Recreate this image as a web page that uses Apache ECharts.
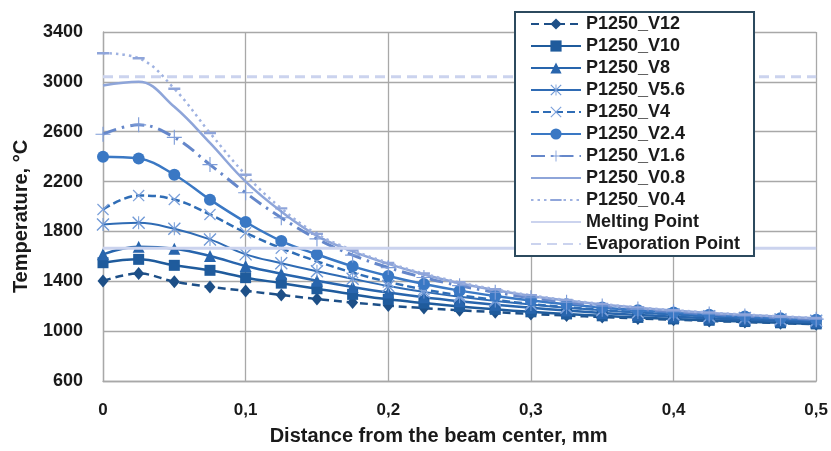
<!DOCTYPE html>
<html>
<head>
<meta charset="utf-8">
<script src="https://cdn.jsdelivr.net/npm/echarts@6/dist/echarts.min.js"></script>
<style>html,body{margin:0;padding:0;background:#fff}#c{width:831px;height:451px}</style>
</head>
<body>
<div id="c"></div>
<script>
const xs = [0, 0.025, 0.05, 0.075, 0.1, 0.125, 0.15, 0.175, 0.2, 0.225, 0.25, 0.275, 0.3, 0.325, 0.35, 0.375, 0.4, 0.425, 0.45, 0.475, 0.5];
const yTicks = [600, 1000, 1400, 1800, 2200, 2600, 3000, 3400];
const xTicks = ['0', '0,1', '0,2', '0,3', '0,4', '0,5'];

const V12  = [1402, 1462, 1397, 1355, 1323, 1290, 1258, 1230, 1205, 1185, 1168, 1152, 1138, 1125, 1113, 1102, 1092, 1082, 1073, 1064, 1055];
const V10  = [1549, 1576, 1528, 1488, 1429, 1385, 1340, 1295, 1255, 1225, 1198, 1175, 1155, 1138, 1123, 1110, 1098, 1087, 1077, 1067, 1058];
const V8   = [1616, 1677, 1661, 1603, 1523, 1460, 1405, 1355, 1310, 1272, 1240, 1212, 1187, 1165, 1146, 1130, 1116, 1103, 1092, 1081, 1071];
const V5_6 = [1856, 1869, 1821, 1736, 1616, 1545, 1480, 1420, 1362, 1315, 1275, 1242, 1213, 1188, 1167, 1149, 1133, 1119, 1106, 1094, 1083];
const V4   = [1976, 2088, 2056, 1936, 1789, 1665, 1560, 1470, 1395, 1335, 1288, 1250, 1218, 1192, 1170, 1151, 1135, 1120, 1107, 1095, 1084];
const V2_4 = [2400, 2385, 2255, 2055, 1875, 1723, 1616, 1520, 1443, 1378, 1325, 1282, 1246, 1216, 1190, 1168, 1149, 1132, 1117, 1104, 1092];
const V1_6 = [2580, 2655, 2555, 2336, 2110, 1910, 1740, 1610, 1510, 1430, 1365, 1312, 1268, 1232, 1202, 1177, 1156, 1138, 1122, 1108, 1096];
const V0_8 = [2970, 3000, 2800, 2510, 2200, 1960, 1765, 1640, 1540, 1455, 1385, 1330, 1282, 1245, 1213, 1187, 1165, 1146, 1130, 1116, 1103];
const V0_4 = [3230, 3190, 2945, 2590, 2255, 1985, 1780, 1650, 1548, 1462, 1392, 1336, 1288, 1250, 1218, 1191, 1169, 1150, 1133, 1119, 1106];
const meltingPoint = 1665;
const evaporationPoint = 3040;

const pairs = arr => arr.map((v, i) => [xs[i], v]);
const flat = v => [[xs[0], v], [xs[xs.length - 1], v]];

const X_PATH = 'path://M0,1.5L1.5,0L20,18.5L18.5,20ZM18.5,0L20,1.5L1.5,20L0,18.5Z';
const STAR_PATH = 'path://M0,1.5L1.5,0L20,18.5L18.5,20ZM18.5,0L20,1.5L1.5,20L0,18.5ZM9.25,0L10.75,0L10.75,20L9.25,20Z';
const PLUS_PATH = 'path://M9.25,0L10.75,0L10.75,20L9.25,20ZM0,9.25L20,9.25L20,10.75L0,10.75Z';
const DASH_PATH = 'path://M0,0L0.01,0L0.01,0.01ZM19.99,19.99L20,19.99L20,20ZM0,8L20,8L20,12L0,12Z';

function ser(name, data, o) {
  return {
    name, type: 'line', data: pairs(data), smooth: 0.4,
    symbol: o.symbol, symbolSize: o.size,
    showSymbol: o.symbol !== 'none',
    lineStyle: { color: o.line, width: o.width, type: o.type || 'solid' },
    itemStyle: { color: o.mark || o.line },
    emphasis: { disabled: true },
    z: o.z || 2
  };
}

const series = [
  ser('P1250_V12', V12, { line: '#1d4f87', width: 2.5, type: [8, 5], symbol: 'diamond', size: [11, 13] }),
  ser('P1250_V10', V10, { line: '#1f5b9c', width: 2.5, symbol: 'rect', size: 11 }),
  ser('P1250_V8', V8, { line: '#2865ad', width: 2.5, symbol: 'triangle', size: 12 }),
  ser('P1250_V5.6', V5_6, { line: '#2f6bb4', width: 2, symbol: STAR_PATH, size: 13, mark: '#7099d6' }),
  ser('P1250_V4', V4, { line: '#2f6db6', width: 2.5, type: [8, 4], symbol: X_PATH, size: 12, mark: '#7ea2db' }),
  ser('P1250_V2.4', V2_4, { line: '#3a78c4', width: 2.5, symbol: 'circle', size: 12 }),
  ser('P1250_V1.6', V1_6, { line: '#6587ca', width: 3, type: [14, 6, 2.5, 6], symbol: PLUS_PATH, size: 15, mark: '#7d9cd8' }),
  ser('P1250_V0.8', V0_8, { line: '#8ea5d9', width: 2.5, symbol: 'none', size: 0 }),
  ser('P1250_V0.4', V0_4, { line: '#9fb2e1', width: 2.5, type: [2.5, 4], symbol: DASH_PATH, size: 12, mark: '#8fa5da' })
];
series.push({
  name: 'Melting Point', type: 'line', data: flat(meltingPoint), symbol: 'none',
  lineStyle: { color: '#cbd3ee', width: 3 }, itemStyle: { color: '#cbd3ee' }, emphasis: { disabled: true }, z: 3
});
series.push({
  name: 'Evaporation Point', type: 'line', data: flat(evaporationPoint), symbol: 'none',
  lineStyle: { color: '#cbd3ee', width: 3, type: [10, 6] }, itemStyle: { color: '#cbd3ee' }, emphasis: { disabled: true }, z: 3
});

const legendData = series.map(s => (s.symbol === 'none'
  ? { name: s.name, itemStyle: { opacity: 0 } }
  : { name: s.name }));

const gridColor = '#a8a8a8';
const chart = echarts.init(document.getElementById('c'), null, { renderer: 'canvas' });
chart.setOption({
  animation: false,
  backgroundColor: '#ffffff',
  textStyle: { fontFamily: 'Liberation Sans' },
  grid: { left: 103, right: 14, top: 32, bottom: 69, containLabel: false },
  legend: {
    orient: 'vertical', left: 515, top: 12,
    padding: [3, 14, 3, 15],
    backgroundColor: '#ffffff', borderColor: '#2c4a5e', borderWidth: 2,
    itemWidth: 50, itemHeight: 14, itemGap: 4,
    textStyle: { fontSize: 18, fontWeight: 'bold', color: '#1a1a1a', fontFamily: 'Liberation Sans' },
    data: legendData,
    selectedMode: false
  },
  xAxis: {
    type: 'value', min: 0, max: 0.5, interval: 0.1,
    name: 'Distance from the beam center, mm', nameLocation: 'middle', nameGap: 45,
    nameMoveOverlap: false,
    nameTextStyle: { fontSize: 20, fontWeight: 'bold', color: '#1a1a1a', padding: [0, 42, 0, 0] },
    axisLine: { show: true, lineStyle: { color: gridColor, width: 1.3 } },
    axisTick: { show: false },
    splitLine: { show: true, lineStyle: { color: gridColor, width: 1.3 } },
    axisLabel: {
      margin: 21, fontSize: 17, fontWeight: 'bold', color: '#1a1a1a',
      formatter: v => xTicks[Math.round(v * 10)] || ''
    }
  },
  yAxis: {
    type: 'value', min: 600, max: 3400,
    name: 'Temperature, °C', nameLocation: 'middle', nameGap: 72,
    nameMoveOverlap: false,
    nameTextStyle: { fontSize: 20, fontWeight: 'bold', color: '#1a1a1a', padding: [0, 20, 0, 0] },
    axisLine: { show: true, lineStyle: { color: gridColor, width: 1.3 } },
    axisTick: { show: false, customValues: yTicks },
    splitLine: { show: true, lineStyle: { color: gridColor, width: 1.3 } },
    axisLabel: { customValues: yTicks, margin: 20, fontSize: 18, fontWeight: 'bold', color: '#1a1a1a',
      formatter: v => String(v) }
  },
  series
});
</script>
</body>
</html>
